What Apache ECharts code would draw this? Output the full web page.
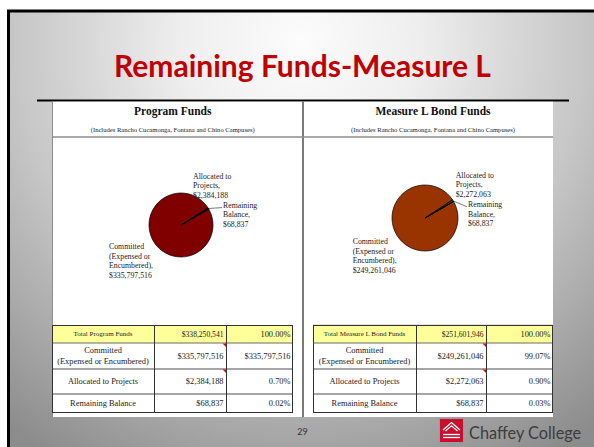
<!DOCTYPE html>
<html><head><meta charset="utf-8">
<script src="https://cdn.jsdelivr.net/npm/echarts@6/dist/echarts.min.js"></script>
<style>html,body{margin:0;padding:0;background:#fff;}#c{width:594px;height:447px;}</style>
</head><body><div id="c"></div>
<script>
// ---------- data ----------
const slideTitle = 'Remaining Funds-Measure L';
const panelTitles = ['Program Funds', 'Measure L Bond Funds'];
const panelSubtitle = '(Includes Rancho Cucamonga, Fontana and Chino Campuses)';
const sliceLabels = ['Committed\n(Expensed or\nEncumbered)', 'Allocated to\nProjects', 'Remaining\nBalance'];
const sliceNames = ['Committed (Expensed or Encumbered)', 'Allocated to Projects', 'Remaining Balance'];
const programFunds = [335797516, 2384188, 68837];
const bondFunds = [249261046, 2272063, 68837];
const programTotal = 338250541;
const bondTotal = 251601946;
const programRowLabels = ['Total Program Funds', 'Committed\n(Expensed or Encumbered)', 'Allocated to Projects', 'Remaining Balance'];
const bondRowLabels = ['Total Measure L Bond Funds', 'Committed\n(Expensed or Encumbered)', 'Allocated to Projects', 'Remaining Balance'];
const programShares = ['100.00%', '$335,797,516', '0.70%', '0.02%'];
const bondShares = ['100.00%', '99.07%', '0.90%', '0.03%'];
const pageNumber = '29';
const brandName = 'Chaffey College';

// ---------- helpers ----------
const fmt = v => '$' + String(v).replace(/\B(?=(\d{3})+(?!\d))/g, ',');
const SERIF = '"Liberation Serif", "DejaVu Serif", serif';

const programAmounts = [programTotal].concat(programFunds).map(fmt);
const bondAmounts = [bondTotal].concat(bondFunds).map(fmt);

// ---------- layout (positions / styles only) ----------
const pieGeom = [
  { center: [181, 225], r: 32, colors: ['#800000', '#000000', '#000000'],
    labels: [[109, 241.9], [193, 171.4], [223, 200.6]] },
  { center: [425, 218], r: 33, colors: ['#993300', '#1d4a2a', '#000000'],
    labels: [[352.7, 236.9], [455.7, 170.4], [468, 199.8]] }
];
const tableGeom = [
  { cols: [52, 154, 226, 292] },
  { cols: [313, 416, 486, 552] }
];
const rowsY = [325, 343, 369, 394, 412];

const chart = echarts.init(document.getElementById('c'), null, { renderer: 'svg' });

const g = [];
// slide background
g.push({ type: 'rect', shape: { x: 0, y: 0, width: 594, height: 447 }, style: { fill: '#ffffff' } });
g.push({ type: 'rect', shape: { x: 8.5, y: 11, width: 600, height: 450 },
  style: { fill: { type: 'radial', x: 300, y: 45, r: 480, global: true,
    colorStops: [{ offset: 0, color: '#fcfcfc' }, { offset: 0.25, color: '#eeeeee' }, { offset: 0.6, color: '#c6c6c6' }, { offset: 1, color: '#8c8c8c' }] },
    stroke: '#000000', lineWidth: 3 } });
// title
g.push({ type: 'text', x: 302.5, y: 65, style: { text: slideTitle, font: 'bold 30px Lato, "Open Sans", sans-serif', fill: '#c00000', textAlign: 'center', textVerticalAlign: 'middle' } });
// black rule
g.push({ type: 'line', shape: { x1: 37, y1: 100.5, x2: 569, y2: 100.5 }, style: { stroke: '#000000', lineWidth: 2 } });
// white panel
g.push({ type: 'rect', shape: { x: 52, y: 101, width: 501, height: 316 }, style: { fill: '#ffffff' } });
g.push({ type: 'line', shape: { x1: 52, y1: 101.5, x2: 553, y2: 101.5 }, style: { stroke: '#8c8c8c', lineWidth: 1 } });
g.push({ type: 'line', shape: { x1: 52.5, y1: 101, x2: 52.5, y2: 417 }, style: { stroke: '#8c8c8c', lineWidth: 1 } });
g.push({ type: 'line', shape: { x1: 303, y1: 101, x2: 303, y2: 417 }, style: { stroke: '#7a7a7a', lineWidth: 2 } });
g.push({ type: 'line', shape: { x1: 52, y1: 137, x2: 553, y2: 137 }, style: { stroke: '#8c8c8c', lineWidth: 1.5 } });
g.push({ type: 'line', shape: { x1: 313, y1: 324.5, x2: 553, y2: 324.5 }, style: { stroke: '#e2e2e2', lineWidth: 1 } });
// panel headers
const headX = [172.7, 433];
panelTitles.forEach((t, i) => {
  g.push({ type: 'text', x: headX[i], y: 111, style: { text: t, font: 'bold 11.5px ' + SERIF, fill: '#111', textAlign: 'center', textVerticalAlign: 'middle' } });
  g.push({ type: 'text', x: headX[i], y: 129, style: { text: panelSubtitle, font: '6.6px ' + SERIF, fill: '#222', textAlign: 'center', textVerticalAlign: 'middle' } });
});
// tables
const tables = [
  { labels: programRowLabels, amounts: programAmounts, shares: programShares },
  { labels: bondRowLabels, amounts: bondAmounts, shares: bondShares }
];
tables.forEach((tb, ti) => {
  const c = tableGeom[ti].cols;
  g.push({ type: 'rect', shape: { x: c[0], y: rowsY[0], width: c[3] - c[0], height: rowsY[1] - rowsY[0] }, style: { fill: '#ffff99' } });
  for (let r = 2; r < 4; r++) {
    g.push({ type: 'line', shape: { x1: c[0], y1: rowsY[r], x2: c[3], y2: rowsY[r] }, style: { stroke: '#a6a6a6', lineWidth: 2 } });
  }
  g.push({ type: 'line', shape: { x1: c[0], y1: rowsY[1], x2: c[3], y2: rowsY[1] }, style: { stroke: '#6a6a6a', lineWidth: 1 } });
  g.push({ type: 'line', shape: { x1: c[0], y1: rowsY[0] + 0.5, x2: c[3], y2: rowsY[0] + 0.5 }, style: { stroke: '#333', lineWidth: 1 } });
  g.push({ type: 'line', shape: { x1: c[0], y1: rowsY[4] + 0.5, x2: c[3], y2: rowsY[4] + 0.5 }, style: { stroke: '#333', lineWidth: 1 } });
  c.forEach((x) => {
    g.push({ type: 'line', shape: { x1: x + 0.5, y1: rowsY[0], x2: x + 0.5, y2: rowsY[4] + 1 }, style: { stroke: '#333', lineWidth: 1 } });
  });
  for (let r = 0; r < 4; r++) {
    const cy = (rowsY[r] + rowsY[r + 1]) / 2;
    const small = r === 0;
    g.push({ type: 'text', x: (c[0] + c[1]) / 2, y: cy, style: { text: tb.labels[r], font: (small ? '7px ' : '8.4px ') + SERIF, lineHeight: 11.5, fill: '#222', textAlign: 'center', textVerticalAlign: 'middle' } });
    g.push({ type: 'text', x: c[2] - 2.5, y: cy, style: { text: tb.amounts[r], font: (small ? '7.6px ' : '8.4px ') + SERIF, fill: '#222', textAlign: 'right', textVerticalAlign: 'middle' } });
    g.push({ type: 'text', x: c[3] - 1.5, y: cy, style: { text: tb.shares[r], font: '8.4px ' + SERIF, fill: '#222', textAlign: 'right', textVerticalAlign: 'middle' } });
  }
  [rowsY[1], rowsY[2]].forEach(y => {
    g.push({ type: 'polygon', shape: { points: [[c[2] - 3.5, y + 0.5], [c[2], y + 0.5], [c[2], y + 4]] }, style: { fill: '#ff0000' } });
  });
});
// footer
g.push({ type: 'text', x: 302.5, y: 431, style: { text: pageNumber, font: '9px Lato, sans-serif', fill: '#333', textAlign: 'center', textVerticalAlign: 'middle' } });
g.push({ type: 'rect', shape: { x: 439.5, y: 418.5, width: 24, height: 24 }, style: { fill: '#c8102e', stroke: '#9a9a9a', lineWidth: 1 } });
g.push({ type: 'polyline', shape: { points: [[443, 430], [451.5, 422.5], [460, 430]] }, style: { stroke: '#fff', lineWidth: 1.3, fill: null } });
g.push({ type: 'polyline', shape: { points: [[445.5, 431], [451.5, 425.8], [457.5, 431]] }, style: { stroke: '#fff', lineWidth: 1.1, fill: null } });
g.push({ type: 'line', shape: { x1: 443, y1: 434.5, x2: 460, y2: 434.5 }, style: { stroke: '#fff', lineWidth: 1.3 } });
g.push({ type: 'line', shape: { x1: 443, y1: 437.5, x2: 460, y2: 437.5 }, style: { stroke: '#fff', lineWidth: 1.3 } });
g.push({ type: 'text', x: 469, y: 432, style: { text: brandName, font: '16.3px Lato, "Open Sans", sans-serif', fill: '#3d3d3d', textAlign: 'left', textVerticalAlign: 'middle' } });

g.forEach(e => { e.silent = true; });

function pieSeries(values, idx) {
  const geo = pieGeom[idx];
  return {
    type: 'pie', z: 5,
    center: geo.center, radius: geo.r,
    startAngle: 30, clockwise: true, minAngle: 0,
    avoidLabelOverlap: false,
    itemStyle: { borderColor: '#000', borderWidth: 0.7 },
    label: {
      show: true, position: 'outside', color: '#222',
      fontFamily: SERIF, fontSize: 7.8, lineHeight: 9.6, align: 'left',
      formatter: p => sliceLabels[p.dataIndex] + ',\n' + fmt(p.value)
    },
    labelLine: { show: false },
    labelLayout: function (params) {
      const pos = geo.labels[params.dataIndex];
      const out = { x: pos[0], y: pos[1], align: 'left', verticalAlign: 'top' };
      if (params.dataIndex === 2) {
        const cx = geo.center[0], cy = geo.center[1];
        const a = 31 * Math.PI / 180;
        const p0 = [cx + geo.r * Math.cos(a), cy - geo.r * Math.sin(a)];
        const end = [pos[0] - 1, pos[1] + 7];
        out.labelLinePoints = [p0, end, end];
      }
      return out;
    },
    data: values.map((v, i) => ({
      name: sliceNames[i], value: v,
      itemStyle: { color: geo.colors[i] },
      labelLine: { show: i === 2, lineStyle: { color: '#222', width: 0.6 }, length: 5, length2: 8 }
    }))
  };
}

chart.setOption({
  animation: false,
  graphic: { elements: g },
  series: [pieSeries(programFunds, 0), pieSeries(bondFunds, 1)]
});
</script></body></html>
